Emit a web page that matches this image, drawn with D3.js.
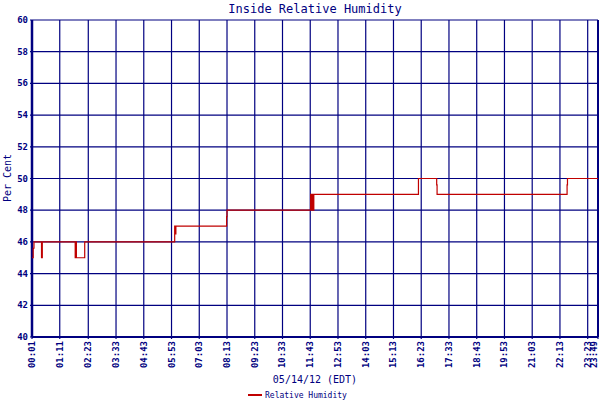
<!DOCTYPE html>
<html><head><meta charset="utf-8">
<script src="https://cdn.jsdelivr.net/npm/d3@7"></script>
<style>body{margin:0;background:#fff}svg{display:block}text{font-family:"DejaVu Sans Mono",monospace}</style>
</head><body><svg id="c" width="600" height="400"></svg>
<script>
const title = "Inside Relative Humidity";
const xTitle = "05/14/12 (EDT)";
const yTitle = "Per Cent";
const seriesName = "Relative Humidity";
const xTickLabels = ["00:01","01:11","02:23","03:33","04:43","05:53","07:03","08:13","09:23","10:33","11:43","12:53","14:03","15:13","16:23","17:33","18:43","19:53","21:03","22:13","23:23","23:49"];
const yTicks = [40,42,44,46,48,50,52,54,56,58,60];
// step series: time (HH:MM) and humidity value
const times = ["00:01","00:04","00:06","00:25","00:27","00:28","01:50","01:52","01:53","02:12","02:14","06:01","06:02","06:04","06:06","08:12","08:13","11:44","11:46","11:48","11:50","11:52","11:54","16:16","17:02","17:03","22:31","22:32","23:49"];
const values = [45,45.6,46,45,46,46,45,46,45,45,46,47,46.5,47,47,47.6,48,49,48,49,48,49,49,50,49.6,49,49.6,50,50];

const toMin = s => { const [h,m]=s.split(":").map(Number); return h*60+m; };
const svg = d3.select("#c");
const L=32,R=598,T=20,B=337;
const x = d3.scaleLinear().domain([toMin("00:01"),toMin("23:49")]).range([L,R]);
const y = d3.scaleLinear().domain([40,60]).range([B,T]);
const navy="#000080";

svg.append("rect").attr("x",L).attr("y",T).attr("width",R-L).attr("height",B-T).attr("fill","#fff");

const g = svg.append("g");
g.selectAll(".vg").data(xTickLabels).join("line")
  .attr("x1",d=>x(toMin(d))).attr("x2",d=>x(toMin(d))).attr("y1",T).attr("y2",B+2)
  .attr("stroke",navy).attr("stroke-width",1.2);
g.selectAll(".hg").data(yTicks).join("line")
  .attr("x1",L-2).attr("x2",R).attr("y1",d=>y(d)).attr("y2",d=>y(d))
  .attr("stroke",navy).attr("stroke-width",1.2);
svg.append("line").attr("x1",L).attr("x2",L).attr("y1",T).attr("y2",B).attr("stroke",navy).attr("stroke-width",2.5);
svg.append("line").attr("x1",R).attr("x2",R).attr("y1",T).attr("y2",B).attr("stroke",navy).attr("stroke-width",2);
svg.append("line").attr("x1",L).attr("x2",R).attr("y1",B).attr("y2",B).attr("stroke",navy).attr("stroke-width",2);

svg.selectAll(".yl").data(yTicks).join("text")
  .attr("x",L-4).attr("y",d=>y(d)+3).attr("text-anchor","end")
  .attr("font-size",9).attr("font-weight","bold").attr("fill",navy).text(d=>d);
svg.selectAll(".xl").data(xTickLabels).join("text")
  .attr("transform",(d,i)=>`translate(${Math.min(x(toMin(d))+3,597)},341) rotate(-90)`)
  .attr("text-anchor","end").attr("font-size",9).attr("font-weight","bold").attr("fill",navy).text(d=>d);

const pts = times.map((t,i)=>[toMin(t),values[i]]);
svg.append("path").datum(pts)
  .attr("d",d3.line().x(d=>x(d[0])).y(d=>y(d[1])).curve(d3.curveStepAfter))
  .attr("fill","none").attr("stroke","#c00000").attr("stroke-width",1.2);

svg.append("text").attr("x",315).attr("y",13).attr("text-anchor","middle").attr("font-size",12).attr("fill",navy).text(title);
svg.append("text").attr("x",315).attr("y",383).attr("text-anchor","middle").attr("font-size",10).attr("fill",navy).text(xTitle);
svg.append("text").attr("transform","translate(11,178) rotate(-90)").attr("text-anchor","middle").attr("font-size",10).attr("fill",navy).text(yTitle);
svg.append("line").attr("x1",248).attr("x2",262).attr("y1",395).attr("y2",395).attr("stroke","#c00000").attr("stroke-width",2);
svg.append("text").attr("x",265).attr("y",398).attr("font-size",8).attr("fill",navy).text(seriesName);
</script></body></html>
